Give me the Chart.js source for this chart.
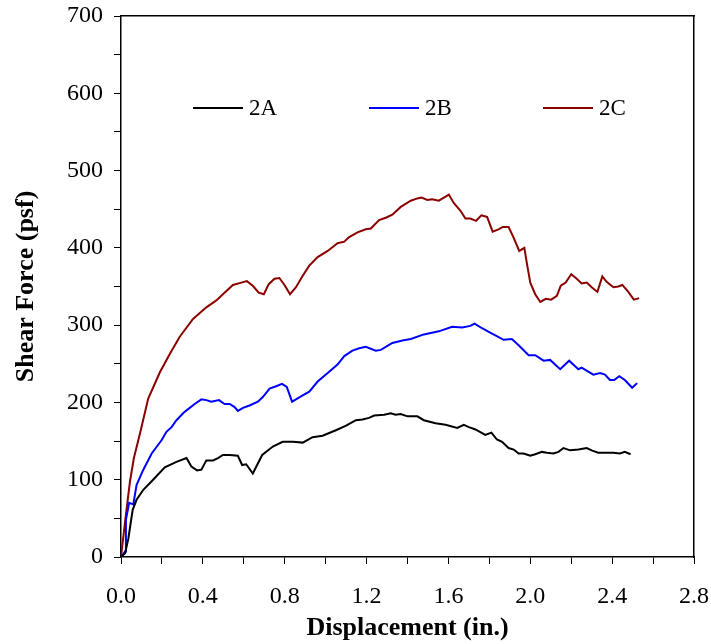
<!DOCTYPE html>
<html>
<head>
<meta charset="utf-8">
<script src="https://cdn.jsdelivr.net/npm/chart.js@4/dist/chart.umd.min.js"></script>
<style>
  html, body { margin: 0; padding: 0; background: #fff; }
  #wrap { width: 711px; height: 644px; }
</style>
</head>
<body>
<div id="wrap"><canvas id="chart" width="711" height="644"></canvas></div>
<script>
// displacement (in.) / shear force (psf)
const disp2A = [0, 0.02, 0.036, 0.057, 0.076, 0.109, 0.157, 0.214, 0.271, 0.32, 0.344, 0.372, 0.393, 0.417, 0.45, 0.474, 0.498, 0.531, 0.571, 0.592, 0.612, 0.644, 0.69, 0.742, 0.79, 0.84, 0.888, 0.936, 0.985, 1.05, 1.1, 1.148, 1.18, 1.212, 1.237, 1.286, 1.318, 1.342, 1.367, 1.4, 1.448, 1.48, 1.537, 1.586, 1.643, 1.675, 1.7, 1.732, 1.78, 1.81, 1.837, 1.862, 1.894, 1.919, 1.943, 1.967, 2.0, 2.024, 2.057, 2.081, 2.113, 2.138, 2.162, 2.195, 2.235, 2.276, 2.3, 2.332, 2.373, 2.406, 2.438, 2.462, 2.49];
const force2A = [0, 5, 24, 61, 74, 87, 100, 116, 123, 128, 117, 112, 113, 125, 125, 128, 132, 132, 131, 119, 120, 108, 132, 143, 149, 149, 148, 155, 157, 164, 170, 177, 178, 180, 183, 184, 186, 184, 185, 182, 182, 177, 173, 171, 167, 171, 168, 165, 158, 161, 152, 149, 141, 139, 134, 134, 131, 133, 136, 135, 134, 136, 141, 138, 139, 141, 138, 135, 135, 135, 134, 136, 133];

const disp2B = [0, 0.02, 0.024, 0.04, 0.06, 0.076, 0.109, 0.15, 0.198, 0.222, 0.247, 0.271, 0.307, 0.336, 0.36, 0.393, 0.417, 0.441, 0.479, 0.506, 0.531, 0.555, 0.571, 0.596, 0.628, 0.669, 0.693, 0.726, 0.758, 0.787, 0.81, 0.836, 0.855, 0.888, 0.92, 0.961, 1.01, 1.058, 1.091, 1.131, 1.164, 1.196, 1.245, 1.27, 1.326, 1.375, 1.416, 1.48, 1.553, 1.618, 1.667, 1.707, 1.728, 1.764, 1.813, 1.87, 1.91, 1.943, 1.992, 2.024, 2.065, 2.097, 2.146, 2.19, 2.235, 2.251, 2.308, 2.341, 2.365, 2.389, 2.41, 2.435, 2.462, 2.498, 2.522];
const force2B = [0, 7, 48, 70, 68, 93, 113, 134, 151, 162, 168, 177, 187, 193, 198, 204, 203, 201, 203, 198, 198, 194, 189, 193, 196, 201, 207, 218, 221, 224, 220, 201, 204, 209, 214, 227, 238, 249, 260, 267, 270, 272, 267, 268, 277, 280, 282, 288, 292, 298, 297, 299, 302, 296, 289, 281, 282, 274, 261, 261, 254, 255, 243, 254, 243, 245, 236, 238, 236, 229, 229, 234, 229, 219, 225];

const disp2C = [0, 0.024, 0.044, 0.063, 0.093, 0.133, 0.19, 0.239, 0.287, 0.352, 0.417, 0.466, 0.498, 0.547, 0.588, 0.615, 0.644, 0.673, 0.698, 0.722, 0.75, 0.774, 0.799, 0.826, 0.855, 0.888, 0.92, 0.961, 1.01, 1.058, 1.091, 1.115, 1.156, 1.196, 1.221, 1.261, 1.294, 1.326, 1.367, 1.416, 1.448, 1.469, 1.497, 1.521, 1.553, 1.578, 1.602, 1.626, 1.659, 1.683, 1.707, 1.735, 1.761, 1.789, 1.816, 1.845, 1.866, 1.894, 1.919, 1.946, 1.971, 1.984, 2.0, 2.024, 2.049, 2.076, 2.102, 2.13, 2.149, 2.173, 2.2, 2.227, 2.251, 2.276, 2.3, 2.328, 2.352, 2.373, 2.406, 2.43, 2.45, 2.479, 2.506, 2.532];
const force2C = [0, 55, 98, 128, 160, 205, 239, 263, 285, 308, 323, 332, 340, 352, 355, 357, 351, 342, 340, 353, 360, 361, 352, 340, 349, 364, 377, 388, 396, 406, 408, 414, 420, 424, 425, 436, 439, 443, 453, 461, 464, 465, 462, 463, 461, 465, 469, 458, 448, 438, 438, 435, 442, 440, 421, 424, 427, 427, 413, 396, 400, 379, 355, 340, 330, 334, 333, 338, 351, 355, 366, 360, 354, 355, 349, 343, 363, 356, 349, 350, 352, 343, 333, 335];

const seriesNames = ['2A', '2B', '2C'];
const seriesColors = ['#000000', '#0000ff', '#8b0000'];

const toPoints = (xs, ys) => xs.map((x, i) => ({ x: x, y: ys[i] }));

const FONT = "'Liberation Serif', 'Times New Roman', serif";

// legend drawn inside the plot, one row
const insideLegend = {
  id: 'insideLegend',
  afterDatasetsDraw(chart, args, opts) {
    const c = chart.ctx;
    const area = chart.chartArea;
    const y = area.top + opts.offsetY;
    c.save();
    c.font = opts.fontSize + 'px ' + FONT;
    c.textBaseline = 'middle';
    c.textAlign = 'left';
    chart.data.datasets.forEach((ds, i) => {
      const x0 = area.left + opts.offsetsX[i];
      c.strokeStyle = ds.borderColor;
      c.lineWidth = 2;
      c.beginPath();
      c.moveTo(x0, y);
      c.lineTo(x0 + opts.lineLen, y);
      c.stroke();
      c.fillStyle = '#000';
      c.fillText(ds.label, x0 + opts.lineLen + 6, y + 1);
    });
    c.restore();
  }
};

// bare axes used only as the top and right edges of the box
const frameAxis = (position, min, max) => ({
  type: 'linear',
  position: position,
  min: min,
  max: max,
  border: { display: true, color: '#000', width: 1.5 },
  grid: { display: true, drawOnChartArea: false, drawTicks: false },
  ticks: { display: false }
});

const ctx = document.getElementById('chart').getContext('2d');
new Chart(ctx, {
  type: 'line',
  data: {
    datasets: [
      { label: seriesNames[0], data: toPoints(disp2A, force2A), borderColor: seriesColors[0] },
      { label: seriesNames[1], data: toPoints(disp2B, force2B), borderColor: seriesColors[1] },
      { label: seriesNames[2], data: toPoints(disp2C, force2C), borderColor: seriesColors[2] }
    ]
  },
  options: {
    responsive: false,
    animation: false,
    layout: { padding: { top: 16, right: 17, left: 0, bottom: 0 } },
    elements: {
      line: { borderWidth: 2, tension: 0, fill: false },
      point: { radius: 0 }
    },
    plugins: {
      legend: { display: false },
      tooltip: { enabled: false },
      insideLegend: { offsetY: 92, offsetsX: [72, 248, 422], lineLen: 50, fontSize: 23 }
    },
    scales: {
      x: {
        type: 'linear',
        position: 'bottom',
        min: 0,
        max: 2.8,
        border: { display: true, color: '#000', width: 1.5 },
        grid: { drawOnChartArea: false, drawTicks: true, tickLength: 7, color: '#000', tickColor: '#000' },
        ticks: {
          stepSize: 0.2,
          color: '#000',
          font: { family: FONT, size: 24 },
          padding: 18,
          maxRotation: 0,
          autoSkip: false,
          callback: (v) => (Math.round(v * 10) % 4 === 0 ? v.toFixed(1) : '')
        },
        title: {
          display: true,
          text: 'Displacement (in.)',
          color: '#000',
          font: { family: FONT, size: 26, weight: 'bold' },
          padding: { top: 0, bottom: 0 }
        },
        afterFit: (scale) => {
          scale.height = 87;
          scale.paddingLeft = 0;
          scale.paddingRight = 0;
        }
      },
      y: {
        type: 'linear',
        position: 'left',
        min: 0,
        max: 700,
        border: { display: true, color: '#000', width: 1.5 },
        grid: { drawOnChartArea: false, drawTicks: true, tickLength: 7, color: '#000', tickColor: '#000' },
        ticks: {
          stepSize: 50,
          color: '#000',
          font: { family: FONT, size: 24 },
          padding: 11,
          autoSkip: false,
          callback: (v) => (v % 100 === 0 ? String(v) : '')
        },
        title: {
          display: true,
          text: 'Shear Force (psf)',
          color: '#000',
          font: { family: FONT, size: 26, weight: 'bold' },
          padding: { top: 11, bottom: 0 }
        },
        afterFit: (scale) => {
          scale.width = 121;
          scale.paddingTop = 0;
          scale.paddingBottom = 0;
        }
      },
      xTop: Object.assign(frameAxis('top', 0, 2.8), {
        afterFit: (scale) => { scale.height = 0; scale.paddingLeft = 0; scale.paddingRight = 0; }
      }),
      yRight: Object.assign(frameAxis('right', 0, 700), {
        afterFit: (scale) => { scale.width = 0; scale.paddingTop = 0; scale.paddingBottom = 0; }
      })
    }
  },
  plugins: [insideLegend]
});
</script>
</body>
</html>
